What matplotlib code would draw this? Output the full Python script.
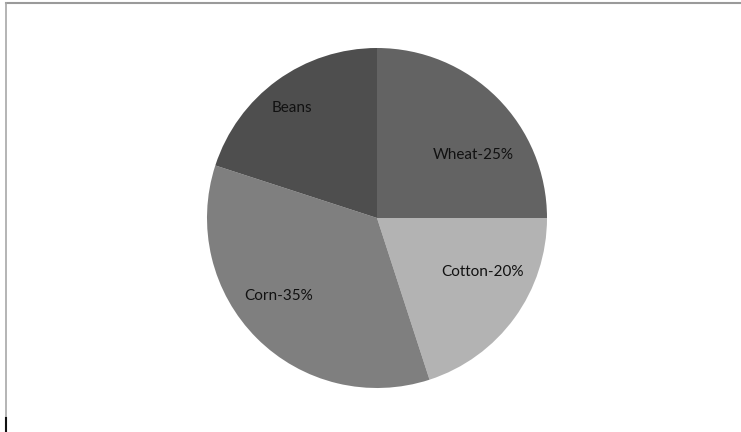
import matplotlib.pyplot as plt
from matplotlib.lines import Line2D

crops = ['Wheat', 'Cotton', 'Corn', 'Beans']
shares = [25, 20, 35, 20]
label_texts = ['Wheat-25%', 'Cotton-20%', 'Corn-35%', 'Beans']
colors = ['#636363', '#b3b3b3', '#7f7f7f', '#4e4e4e']
# label positions in pie-radius units
label_pos = [(0.565, 0.37), (0.62, -0.32), (-0.58, -0.46), (-0.5, 0.65)]

W, H = 741, 432
cx, cy, r = 377, 218, 170

fig = plt.figure(figsize=(W / 100, H / 100), dpi=100)
ax = fig.add_axes([0, 0, 1, 1])
ax.pie(shares, colors=colors, startangle=90, counterclock=False,
       radius=1, wedgeprops={'linewidth': 0})
ax.set_aspect('auto')
ax.set_xlim(-cx / r, (W - cx) / r)
ax.set_ylim(-(H - cy) / r, cy / r)
ax.axis('off')

for txt, (x, y) in zip(label_texts, label_pos):
    ax.text(x, y, txt, ha='center', va='center', fontsize=11,
            family='Lato', color='#111111')

# frame of the original screenshot
fig.add_artist(Line2D([6 / W, 1], [1 - 3 / H, 1 - 3 / H], color='#9a9a9a', lw=1.5))
fig.add_artist(Line2D([6 / W, 6 / W], [0, 1 - 3 / H], color='#a8a8a8', lw=1.2))
fig.add_artist(Line2D([5.5 / W, 5.5 / W], [0, 14 / H], color='#111111', lw=1.5))

fig.savefig('out.png', dpi=100)
